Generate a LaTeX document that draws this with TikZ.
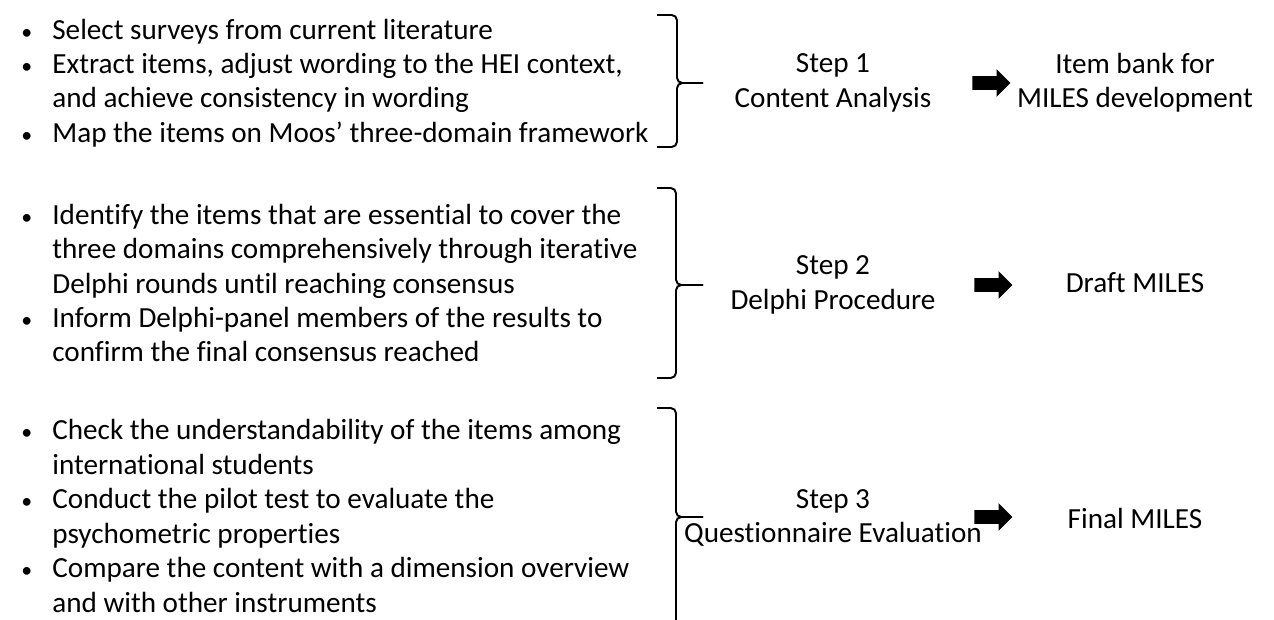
\documentclass[tikz,border=0pt]{standalone}
\usepackage{fontspec}
\setmainfont[Ligatures={NoCommon}]{Carlito}
\usetikzlibrary{shapes.arrows}

\newcommand\bul{\makebox[0.62cm][l]{\scalebox{0.75}{\textbullet}}}
\newcommand\ind{\hspace*{0.62cm}}

\begin{document}
\begin{tikzpicture}[
  x=0.02cm, y=-0.02cm,
  items/.style={anchor=west, align=left, inner sep=0, font=\fontsize{16.6}{19.6}\selectfont},
  stepbox/.style={align=center, inner sep=0, font=\fontsize{16.6}{19.6}\selectfont},
  result/.style={align=center, inner sep=0, font=\fontsize{16.6}{19.6}\selectfont},
  blockarr/.style={single arrow, fill=black, inner xsep=0, inner ysep=0.13cm, minimum height=0.76cm, minimum width=0.54cm, single arrow head extend=0.14cm},
  brace/.style={line width=1.1pt, rounded corners=3}
]
\useasboundingbox (0,0) rectangle (1274,619);

% bullet lists
\node[items] (group1) at (21,83) {\bul Select surveys from current literature\\
  \bul Extract items, adjust wording to the HEI context,\\
  \ind and achieve consistency in wording\\
  \bul Map the items on Moos’ three-domain framework};
\node[items] (group2) at (21,283) {\bul Identify the items that are essential to cover the\\
  \ind three domains comprehensively through iterative\\
  \ind Delphi rounds until reaching consensus\\
  \bul Inform Delphi-panel members of the results to\\
  \ind confirm the final consensus reached};
\node[items] (group3) at (21,516) {\bul Check the understandability of the items among\\
  \ind international students\\
  \bul Conduct the pilot test to evaluate the\\
  \ind psychometric properties\\
  \bul Compare the content with a dimension overview\\
  \ind and with other instruments};

% steps
\node[stepbox] (step1) at (833,83) {Step 1\\Content Analysis};
\node[stepbox] (step2) at (833,285) {Step 2\\Delphi Procedure};
\node[stepbox] (step3) at (833,518) {Step 3\\Questionnaire Evaluation};

% outcomes
\node[result] (out1) at (1135,83) {Item bank for\\MILES development};
\node[result] (out2) at (1135,283) {Draft MILES};
\node[result] (out3) at (1135,518) {Final MILES};

\node[blockarr] (arr1) at (988,83) {};
\node[blockarr] (arr2) at (990,285) {};
\node[blockarr] (arr3) at (990,517) {};

% braces
\coordinate (tip1) at (703,83);
\coordinate (tip2) at (703,285);
\coordinate (tip3) at (703,517);
\draw[brace] (657,15) -| (677,83) -- (tip1);
\draw[brace] (657,147) -| (677,83) -- (tip1);
\draw[brace] (657,188) -| (676,285) -- (tip2);
\draw[brace] (657,378) -| (676,285) -- (tip2);
\draw[brace] (657,408) -| (676,517) -- (tip3);
\draw[brace] (676,630) -- (676,517) -- (tip3);
\end{tikzpicture}
\end{document}
